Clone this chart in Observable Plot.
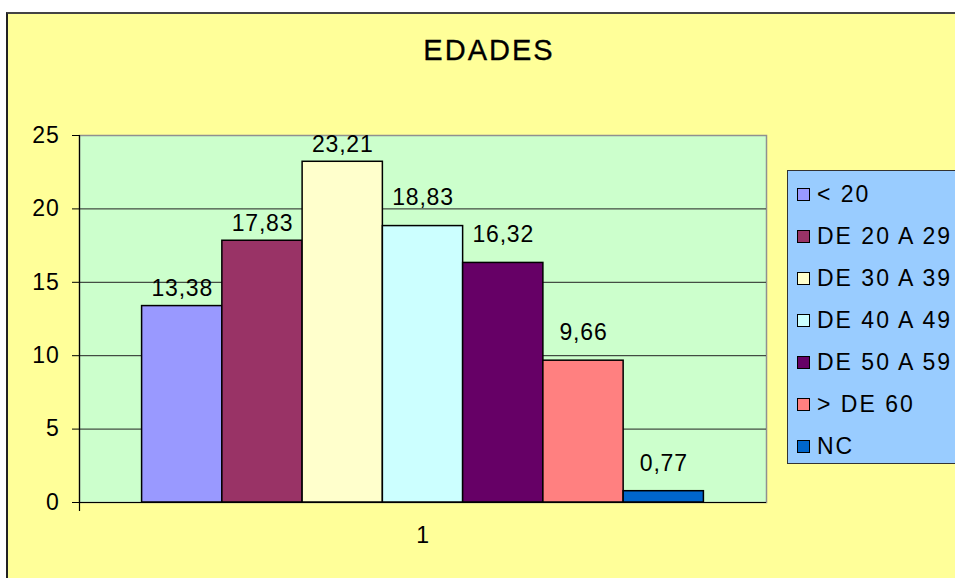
<!DOCTYPE html>
<html>
<head>
<meta charset="utf-8">
<script src="https://cdn.jsdelivr.net/npm/d3@7"></script>
<script src="https://cdn.jsdelivr.net/npm/@observablehq/plot@0.6"></script>
<style>
  html, body { margin: 0; padding: 0; background: #fff; }
  #wrap { position: relative; width: 955px; height: 578px; overflow: hidden; font-family: "Liberation Sans", Arial, sans-serif; }
  #bg { position: absolute; left: 6px; top: 12px; width: 1000px; height: 700px; background: #FFFF99; border-left: 2px solid #222; border-top: 2px solid #444; }
  #title { position: absolute; left: 0; top: 34px; width: 978px; text-align: center; font-size: 29px; letter-spacing: 2px; color: #000; -webkit-text-stroke: 0.3px #000; }
  #chart { position: absolute; left: 0; top: 0; }
  #legend { position: absolute; left: 787px; top: 170px; width: 300px; height: 292px; background: #99CCFF; border: 1.5px solid #333; }
  .item { position: absolute; left: 9px; height: 30px; display: flex; align-items: center; font-size: 23px; letter-spacing: 2px; color: #000; white-space: nowrap; }
  .sw { width: 11px; height: 11px; border: 1.5px solid #000; margin-right: 7px; }
</style>
</head>
<body>
<div id="wrap">
  <div id="bg"></div>
  <div id="title"></div>
  <div id="chart"></div>
  <div id="legend"></div>
</div>
<script>
const title = "EDADES";
const categories = ["< 20", "DE 20 A 29", "DE 30 A 39", "DE 40 A 49", "DE 50 A 59", "> DE 60", "NC"];
const values = [13.38, 17.83, 23.21, 18.83, 16.32, 9.66, 0.77];
const colors = ["#9999FF", "#993366", "#FFFFCC", "#CCFFFF", "#660066", "#FF8080", "#0066CC"];
const yTicks = [0, 5, 10, 15, 20, 25];
const groupLabel = "1";

document.getElementById("title").textContent = title;

const data = categories.map((c, i) => ({cat: c, val: values[i]}));
const fmt = v => v.toFixed(2).replace(".", ",");

const plot = Plot.plot({
  width: 955,
  height: 578,
  marginLeft: 79,
  marginRight: 189,
  marginTop: 135,
  marginBottom: 76,
  style: {background: "transparent", fontSize: "23px", fontFamily: "'Liberation Sans', Arial, sans-serif", color: "#000", letterSpacing: "0.8px"},
  x: {type: "band", domain: categories, paddingInner: 0, paddingOuter: 0.78, round: false, axis: null},
  y: {domain: [0, 25], axis: null},
  color: {domain: categories, range: colors},
  marks: [
    Plot.frame({fill: "#CCFFCC", stroke: "#909090", strokeWidth: 1.5}),
    Plot.gridY([5, 10, 15, 20], {stroke: "#222", strokeOpacity: 1, strokeWidth: 1}),
    Plot.barY(data, {x: "cat", y: "val", fill: "cat", stroke: "#000", strokeWidth: 1.5}),
    Plot.ruleY([0], {stroke: "#000", strokeWidth: 1.2}),
    Plot.frame({anchor: "left", stroke: "#000", strokeWidth: 1.2, insetBottom: -8}),
    Plot.axisY(yTicks, {label: null, tickSize: 7, tickPadding: 13, tickFormat: d => String(d), stroke: "#000", fill: "#000"}),
    Plot.text(data.filter((d, i) => i < 3), {x: "cat", y: "val", text: d => fmt(d.val), dy: -17, fill: "#000"}),
    Plot.text(data.filter((d, i) => i >= 3), {x: "cat", y: "val", text: d => fmt(d.val), dy: -28, fill: "#000"}),
    Plot.text([groupLabel], {frameAnchor: "bottom", text: d => d, dy: 40, fill: "#000"})
  ]
});
document.getElementById("chart").appendChild(plot);

const legend = document.getElementById("legend");
categories.forEach((c, i) => {
  const it = document.createElement("div");
  it.className = "item";
  it.style.top = (8 + i * 42) + "px";
  const sw = document.createElement("div");
  sw.className = "sw";
  sw.style.background = colors[i];
  const tx = document.createElement("span");
  tx.textContent = c;
  it.appendChild(sw);
  it.appendChild(tx);
  legend.appendChild(it);
});
</script>
</body>
</html>
